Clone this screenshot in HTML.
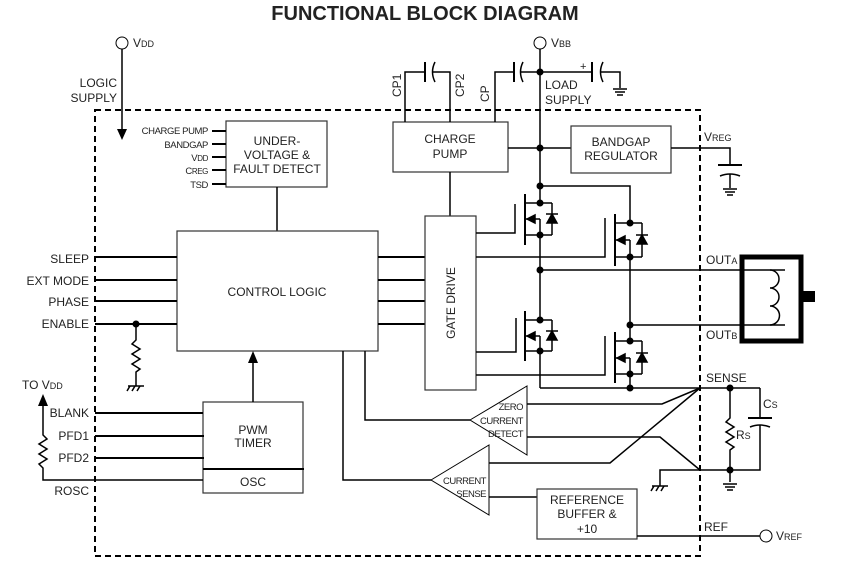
<!DOCTYPE html>
<html><head><meta charset="utf-8"><style>
html,body{margin:0;padding:0;background:#fff}
svg{display:block}
text{font-family:"Liberation Sans",Arial,sans-serif;fill:#222}
</style></head><body>
<svg width="848" height="561" viewBox="0 0 848 561" xmlns="http://www.w3.org/2000/svg">
<defs>
<g id="gnd"><line x1="-7" y1="0" x2="7" y2="0"/><line x1="-5" y1="3" x2="5" y2="3"/><line x1="-3" y1="6" x2="3" y2="6"/></g>
</defs>
<text x="425" y="20" font-size="20" font-weight="bold" text-anchor="middle" fill="#000">FUNCTIONAL BLOCK DIAGRAM</text>

<g stroke="#000" stroke-width="2" fill="none">
<rect x="95" y="110" width="605" height="446" stroke-dasharray="6,4"/>
</g>

<g stroke="#000" stroke-width="1.5" fill="none">
<circle cx="122" cy="43" r="6" stroke-width="1"/>
<line x1="122" y1="49" x2="122" y2="132"/>
<rect x="226" y="121" width="101" height="66" stroke="#333" stroke-width="1.2"/>
<line x1="212" y1="131" x2="226" y2="131" stroke-width="2"/>
<line x1="212" y1="144" x2="226" y2="144" stroke-width="2"/>
<line x1="212" y1="157" x2="226" y2="157" stroke-width="2"/>
<line x1="212" y1="170" x2="226" y2="170" stroke-width="2"/>
<line x1="212" y1="184" x2="226" y2="184" stroke-width="2"/>
<line x1="277" y1="187" x2="277" y2="231"/>
<rect x="177" y="231" width="201" height="120" stroke="#333" stroke-width="1.2"/>
<line x1="95" y1="257" x2="177" y2="257" stroke-width="2"/>
<line x1="95" y1="280" x2="177" y2="280" stroke-width="2"/>
<line x1="95" y1="301" x2="177" y2="301" stroke-width="2"/>
<line x1="95" y1="324" x2="177" y2="324" stroke-width="2"/>
<line x1="378" y1="257" x2="425" y2="257" stroke-width="2"/>
<line x1="378" y1="280" x2="425" y2="280" stroke-width="2"/>
<line x1="378" y1="301" x2="425" y2="301" stroke-width="2"/>
<line x1="378" y1="324" x2="425" y2="324" stroke-width="2"/>
<polyline points="136,324 136,340 132,344 140,349 132,354 140,359 132,364 140,369 136,372 136,386"/>
<line x1="128" y1="386" x2="144" y2="386"/>
<line x1="130" y1="386" x2="127" y2="391"/><line x1="135" y1="386" x2="132" y2="391"/><line x1="140" y1="386" x2="137" y2="391"/>
<rect x="203" y="402" width="100" height="91" stroke="#333" stroke-width="1.2"/>
<line x1="203" y1="469" x2="304" y2="469" stroke-width="2"/>
<line x1="253" y1="402" x2="253" y2="362"/>
<line x1="95" y1="413" x2="203" y2="413" stroke-width="2"/>
<line x1="95" y1="436" x2="204" y2="436" stroke-width="2"/>
<line x1="95" y1="458" x2="204" y2="458" stroke-width="2"/>
<polyline points="203,480 43,480 43,468 39,464 47,459 39,454 47,449 39,444 47,439 43,435 43,405" stroke-width="1.5"/>
<rect x="393" y="122" width="115" height="50" stroke="#333" stroke-width="1.2"/>
<line x1="450" y1="172" x2="450" y2="216"/>
<polyline points="405,122 405,72 425,72"/>
<line x1="425" y1="62" x2="425" y2="82" stroke-width="2"/>
<path d="M435,62 Q430,72 435,82"/>
<polyline points="432,72 450,72 450,122"/>
<polyline points="495,122 495,72 514,72"/>
<line x1="514" y1="62" x2="514" y2="82" stroke-width="2"/>
<path d="M523,62 Q518,72 523,82"/>
<line x1="520" y1="72" x2="592" y2="72"/>
<line x1="592" y1="62" x2="592" y2="82" stroke-width="2"/>
<path d="M603,62 Q598,72 603,82"/>
<polyline points="600,72 620,72 620,88"/>
<g transform="translate(620,89)"><use href="#gnd"/></g>
<circle cx="540" cy="43" r="6" stroke-width="1"/>
<line x1="540" y1="49" x2="540" y2="203"/>
<line x1="508" y1="148" x2="571" y2="148"/>
<rect x="571" y="126" width="100" height="47" stroke="#333" stroke-width="1.2"/>
<polyline points="671,148 730,148 730,165"/>
<line x1="718" y1="165" x2="742" y2="165" stroke-width="2"/>
<path d="M720,176 Q730,172 740,176"/>
<line x1="730" y1="174" x2="730" y2="188"/>
<g transform="translate(730,189)"><use href="#gnd"/></g>
<rect x="425" y="216" width="51" height="174" stroke="#333" stroke-width="1.2"/>
<polyline points="540,186 630,186 630,223"/>
<line x1="540" y1="235" x2="540" y2="320"/>
<line x1="540" y1="351" x2="540" y2="388"/>
<line x1="630" y1="257" x2="630" y2="341"/>
<line x1="630" y1="374" x2="630" y2="388"/>
<line x1="540" y1="388" x2="760" y2="388"/>
<line x1="540" y1="270" x2="785" y2="270"/>
<line x1="630" y1="325" x2="785" y2="325"/>
<polyline points="476,233 515,233 515,204"/>
<polyline points="476,257 605,257 605,218"/>
<polyline points="476,352 516,352 516,318"/>
<polyline points="476,375 605,375 605,336"/>
</g>

<g stroke="#000" stroke-width="1.5" fill="none">
<g transform="translate(540,203)">
<line x1="-15" y1="-9" x2="-15" y2="42" stroke-width="2"/>
<line x1="-15" y1="0" x2="12" y2="0"/><line x1="-15" y1="32" x2="12" y2="32"/>
<line x1="12" y1="0" x2="12" y2="32"/>
<line x1="-15" y1="16" x2="0" y2="16"/><line x1="0" y1="16" x2="0" y2="32"/>
<polygon points="-13,16 -5,12 -5,20" fill="#000"/>
<polygon points="7,20 17,20 12,11" fill="#000"/><line x1="6" y1="11" x2="18" y2="11"/>
</g>
<g transform="translate(630,223)">
<line x1="-15" y1="-9" x2="-15" y2="43" stroke-width="2"/>
<line x1="-15" y1="0" x2="12" y2="0"/><line x1="-15" y1="34" x2="12" y2="34"/>
<line x1="12" y1="0" x2="12" y2="34"/>
<line x1="-15" y1="17" x2="0" y2="17"/><line x1="0" y1="17" x2="0" y2="34"/>
<polygon points="-13,17 -5,13 -5,21" fill="#000"/>
<polygon points="7,21 17,21 12,12" fill="#000"/><line x1="6" y1="12" x2="18" y2="12"/>
</g>
<g transform="translate(540,320)">
<line x1="-15" y1="-9" x2="-15" y2="41" stroke-width="2"/>
<line x1="-15" y1="0" x2="12" y2="0"/><line x1="-15" y1="31" x2="12" y2="31"/>
<line x1="12" y1="0" x2="12" y2="31"/>
<line x1="-15" y1="16" x2="0" y2="16"/><line x1="0" y1="16" x2="0" y2="31"/>
<polygon points="-13,16 -5,12 -5,20" fill="#000"/>
<polygon points="7,20 17,20 12,11" fill="#000"/><line x1="6" y1="11" x2="18" y2="11"/>
</g>
<g transform="translate(630,341)">
<line x1="-15" y1="-9" x2="-15" y2="42" stroke-width="2"/>
<line x1="-15" y1="0" x2="12" y2="0"/><line x1="-15" y1="33" x2="12" y2="33"/>
<line x1="12" y1="0" x2="12" y2="33"/>
<line x1="-15" y1="17" x2="0" y2="17"/><line x1="0" y1="17" x2="0" y2="33"/>
<polygon points="-13,17 -5,13 -5,21" fill="#000"/>
<polygon points="7,21 17,21 12,12" fill="#000"/><line x1="6" y1="12" x2="18" y2="12"/>
</g>
</g>

<g fill="#000">
<circle cx="540" cy="72" r="3.5"/><circle cx="540" cy="148" r="3.5"/><circle cx="540" cy="186" r="3.5"/>
<circle cx="540" cy="203" r="3.5"/><circle cx="540" cy="235" r="3.5"/><circle cx="540" cy="270" r="3.5"/>
<circle cx="540" cy="320" r="3.5"/><circle cx="540" cy="351" r="3.5"/>
<circle cx="630" cy="223" r="3.5"/><circle cx="630" cy="257" r="3.5"/><circle cx="630" cy="325" r="3.5"/>
<circle cx="630" cy="341" r="3.5"/><circle cx="630" cy="374" r="3.5"/><circle cx="630" cy="388" r="3.5"/>
<circle cx="136" cy="324" r="3.5"/><circle cx="730" cy="388" r="3.5"/><circle cx="730" cy="470" r="3.5"/>
<polygon points="117,129 127,129 122,140"/>
<polygon points="248,363 258,363 253,351"/>
<polygon points="38,406 48,406 43,394"/>
</g>

<g stroke="#000" fill="none">
<rect x="742" y="257" width="59" height="84" stroke-width="5"/>
<path d="M770,270 A9,9 0 0 1 770,288 A9,9 0 0 1 770,306 A9,9 0 0 1 770,325" stroke-width="1.5"/>
</g>
<rect x="803" y="291" width="12" height="11" fill="#000"/>

<g stroke="#000" stroke-width="1.5" fill="none">
<polyline points="760,388 760,418"/>
<line x1="748" y1="418" x2="772" y2="418" stroke-width="2"/>
<path d="M750,427 Q760,423 770,427"/>
<polyline points="760,425 760,470 660,470 660,486"/>
<line x1="652" y1="486" x2="668" y2="486"/>
<line x1="654" y1="486" x2="651" y2="491"/><line x1="659" y1="486" x2="656" y2="491"/><line x1="664" y1="486" x2="661" y2="491"/>
<polyline points="730,388 730,418 726,422 734,427 726,432 734,437 726,442 734,447 730,450 730,482"/>
<g transform="translate(730,484)"><use href="#gnd"/></g>
<polygon points="470,420 527,386 527,455" stroke-width="1"/>
<polygon points="431,480 489,445 489,515" stroke-width="1"/>
<polyline points="527,404 662,404 700,388" />
<polyline points="527,437 660,437 700,470"/>
<polyline points="489,463 610,463 700,388"/>
<line x1="489" y1="497" x2="537" y2="497"/>
<polyline points="365,351 365,420 470,420"/>
<polyline points="343,351 343,480 431,480"/>
<rect x="537" y="489" width="100" height="50" stroke="#333" stroke-width="1.2"/>
<line x1="637" y1="536" x2="760" y2="536"/>
<circle cx="766" cy="536" r="6" stroke-width="1"/>
</g>

<g font-size="12">
<text x="133" y="47">V<tspan font-size="9">DD</tspan></text>
<text x="117" y="87" text-anchor="end">LOGIC</text>
<text x="117" y="102" text-anchor="end">SUPPLY</text>
</g>
<g font-size="9.5" text-anchor="end" letter-spacing="-0.4">
<text x="208" y="134">CHARGE PUMP</text>
<text x="208" y="148">BANDGAP</text>
<text x="208" y="161">V<tspan font-size="8">DD</tspan></text>
<text x="208" y="174">C<tspan font-size="8">REG</tspan></text>
<text x="208" y="188">TSD</text>
</g>
<g font-size="12" text-anchor="middle">
<text x="277" y="145">UNDER-</text>
<text x="277" y="159">VOLTAGE &amp;</text>
<text x="277" y="173">FAULT DETECT</text>
<text x="277" y="296">CONTROL LOGIC</text>
<text x="253" y="434">PWM</text>
<text x="253" y="447">TIMER</text>
<text x="253" y="486">OSC</text>
<text x="450" y="143">CHARGE</text>
<text x="450" y="158">PUMP</text>
<text x="621" y="146">BANDGAP</text>
<text x="621" y="160">REGULATOR</text>
<text x="587" y="504">REFERENCE</text>
<text x="587" y="518">BUFFER &amp;</text>
<text x="587" y="533">+10</text>
<text transform="translate(455,303) rotate(-90)">GATE DRIVE</text>
</g>
<g font-size="12" text-anchor="end">
<text x="89" y="263">SLEEP</text>
<text x="89" y="285">EXT MODE</text>
<text x="89" y="306">PHASE</text>
<text x="89" y="328">ENABLE</text>
<text x="89" y="417">BLANK</text>
<text x="89" y="440">PFD1</text>
<text x="89" y="462">PFD2</text>
<text x="89" y="495">ROSC</text>
</g>
<text x="22" y="389" font-size="12">TO V<tspan font-size="9">DD</tspan></text>
<g font-size="12">
<text transform="translate(401,97) rotate(-90)">CP1</text>
<text transform="translate(464,97) rotate(-90)">CP2</text>
<text transform="translate(489,102) rotate(-90)">CP</text>
<text x="551" y="47">V<tspan font-size="9">BB</tspan></text>
<text x="580" y="70" font-size="11">+</text>
<text x="545" y="89">LOAD</text>
<text x="545" y="104">SUPPLY</text>
<text x="704" y="141">V<tspan font-size="9">REG</tspan></text>
<text x="706" y="264">OUT<tspan font-size="9">A</tspan></text>
<text x="706" y="339">OUT<tspan font-size="9">B</tspan></text>
<text x="706" y="382">SENSE</text>
<text x="763" y="408">C<tspan font-size="9">S</tspan></text>
<text x="736" y="439">R<tspan font-size="9">S</tspan></text>
<text x="704" y="531">REF</text>
<text x="776" y="540">V<tspan font-size="9">REF</tspan></text>
</g>
<g font-size="9.5" text-anchor="end" letter-spacing="-0.5">
<text x="523" y="410">ZERO</text>
<text x="523" y="424">CURRENT</text>
<text x="523" y="437">DETECT</text>
<text x="486" y="484">CURRENT</text>
<text x="486" y="497">SENSE</text>
</g>
</svg>
</body></html>
